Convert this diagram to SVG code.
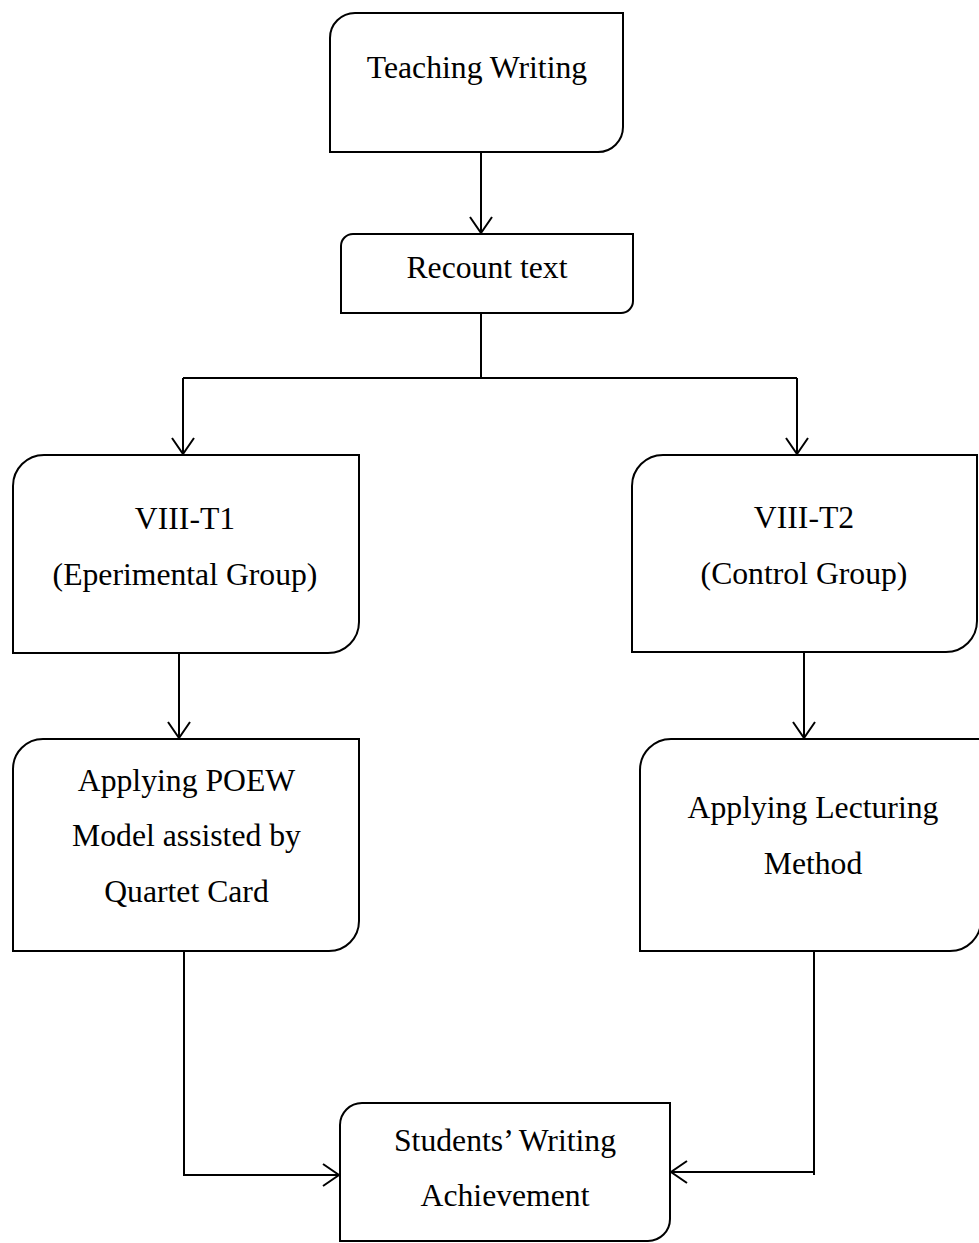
<svg xmlns="http://www.w3.org/2000/svg" width="979" height="1243" viewBox="0 0 979 1243">
<style>
.box{fill:#fff;stroke:#000;stroke-width:2}
.t{font-family:"Liberation Serif","Times New Roman",serif;font-size:31.7px;fill:#000;text-anchor:middle}
.c{fill:none;stroke:#000;stroke-width:2}
</style>
<defs>
<marker id="ah" markerUnits="userSpaceOnUse" markerWidth="22" markerHeight="26" viewBox="-19 -13 22 26" refX="0" refY="0" orient="auto">
<path d="M-16,-11 L0,0 L-16,11" fill="none" stroke="#000" stroke-width="2"/>
</marker>
</defs>
<rect width="979" height="1243" fill="#fff"/>
<g id="connectors">
<path class="c" d="M481,152 V233" marker-end="url(#ah)"/>
<path class="c" d="M481,313 V378 M183,378 H797"/>
<path class="c" d="M183,378 V454" marker-end="url(#ah)"/>
<path class="c" d="M797,378 V454" marker-end="url(#ah)"/>
<path class="c" d="M179,653 V738" marker-end="url(#ah)"/>
<path class="c" d="M804,652 V738" marker-end="url(#ah)"/>
<path class="c" d="M184,951 V1175 H339" marker-end="url(#ah)"/>
<path class="c" d="M814,951 V1175"/>
<path class="c" d="M814,1172 H671" marker-end="url(#ah)"/>
</g>
<g id="teaching-writing">
<path class="box" d="M355,13 H623 V127 A25,25 0 0 1 598,152 H330 V38 A25,25 0 0 1 355,13 Z"/>
<text class="t" x="477" y="78">Teaching Writing</text>
</g>
<g id="recount-text">
<path class="box" d="M353,234 H633 V301 A12,12 0 0 1 621,313 H341 V246 A12,12 0 0 1 353,234 Z"/>
<text class="t" x="487" y="278">Recount text</text>
</g>
<g id="viii-t1">
<path class="box" d="M44,455 H359 V622 A31,31 0 0 1 328,653 H13 V486 A31,31 0 0 1 44,455 Z"/>
<text class="t" x="185" y="529">VIII-T1</text>
<text class="t" x="185" y="585">(Eperimental Group)</text>
</g>
<g id="viii-t2">
<path class="box" d="M663,455 H977 V621 A31,31 0 0 1 946,652 H632 V486 A31,31 0 0 1 663,455 Z"/>
<text class="t" x="804" y="528">VIII-T2</text>
<text class="t" x="804" y="584">(Control Group)</text>
</g>
<g id="applying-poew">
<path class="box" d="M43,739 H359 V921 A30,30 0 0 1 329,951 H13 V769 A30,30 0 0 1 43,739 Z"/>
<text class="t" x="186.5" y="791">Applying POEW</text>
<text class="t" x="186.5" y="846">Model assisted by</text>
<text class="t" x="186.5" y="902">Quartet Card</text>
</g>
<g id="applying-lecturing">
<path class="box" d="M671,739 H981 V920 A31,31 0 0 1 950,951 H640 V770 A31,31 0 0 1 671,739 Z"/>
<text class="t" x="813" y="818">Applying Lecturing</text>
<text class="t" x="813" y="874">Method</text>
</g>
<g id="students-writing-achievement">
<path class="box" d="M362,1103 H670 V1219 A22,22 0 0 1 648,1241 H340 V1125 A22,22 0 0 1 362,1103 Z"/>
<text class="t" x="505" y="1151">Students’ Writing</text>
<text class="t" x="505" y="1206">Achievement</text>
</g>
</svg>
